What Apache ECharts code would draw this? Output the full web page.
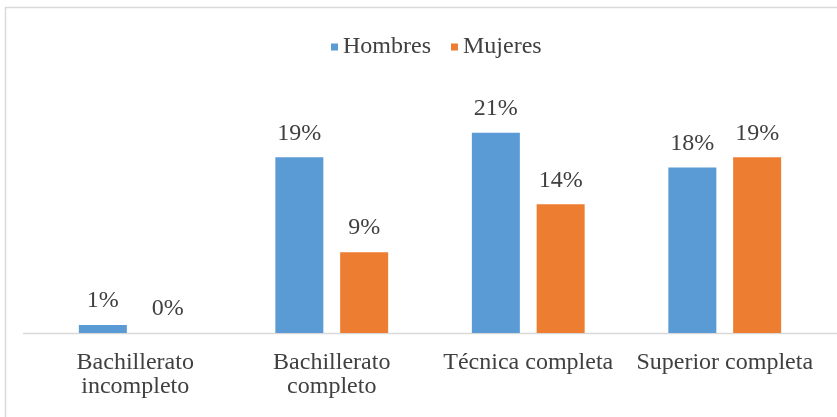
<!DOCTYPE html>
<html>
<head>
<meta charset="utf-8">
<script src="https://cdn.jsdelivr.net/npm/echarts@6/dist/echarts.min.js"></script>
<style>
  html, body { margin: 0; padding: 0; background: #fff; }
  #main { width: 837px; height: 417px; }
</style>
</head>
<body>
<div id="main"></div>
<script>
var categories = ['Bachillerato\nincompleto', 'Bachillerato\ncompleto', 'Técnica completa', 'Superior completa'];
var hombres = [0.85, 18.7, 21.3, 17.6];
var mujeres = [0, 8.6, 13.7, 18.7];

var chartDom = document.getElementById('main');
var myChart = echarts.init(chartDom);
var option;

var labelStyle = {
  show: true,
  position: 'top',
  distance: 12,
  fontFamily: 'Liberation Serif',
  fontSize: 24,
  color: '#404040',
  formatter: function (p) { return Math.round(p.value) + '%'; }
};

option = {
  animation: false,
  graphic: [
    {
      type: 'rect',
      shape: { x: 5.5, y: 7.5, width: 840, height: 420 },
      style: { fill: 'none', stroke: '#d9d9d9', lineWidth: 1.5 },
      silent: true
    },
    {
      type: 'line',
      shape: { x1: 23, y1: 333.5, x2: 837, y2: 333.5 },
      style: { stroke: '#d9d9d9', lineWidth: 1.5 },
      silent: true
    }
  ],
  legend: {
    data: ['Hombres', 'Mujeres'],
    left: 326,
    top: 30,
    itemWidth: 7,
    itemHeight: 7,
    itemGap: 20,
    icon: 'rect',
    textStyle: { fontFamily: 'Liberation Serif', fontSize: 24, color: '#404040' }
  },
  grid: { left: 37, right: 14, top: 51, bottom: 84 },
  xAxis: {
    type: 'category',
    data: categories,
    axisLine: { show: false },
    axisTick: { show: false },
    axisLabel: {
      interval: 0,
      margin: 18,
      fontFamily: 'Liberation Serif',
      fontSize: 24,
      lineHeight: 24,
      color: '#404040'
    }
  },
  yAxis: {
    type: 'value',
    min: 0,
    max: 30,
    show: false,
    splitLine: { show: false }
  },
  series: [
    {
      name: 'Hombres',
      type: 'bar',
      data: hombres,
      barWidth: 48,
      barGap: '35%',
      itemStyle: { color: '#5b9bd5' },
      label: labelStyle
    },
    {
      name: 'Mujeres',
      type: 'bar',
      data: mujeres,
      barWidth: 48,
      itemStyle: { color: '#ed7d31' },
      label: labelStyle
    }
  ]
};

option && myChart.setOption(option);
</script>
</body>
</html>
